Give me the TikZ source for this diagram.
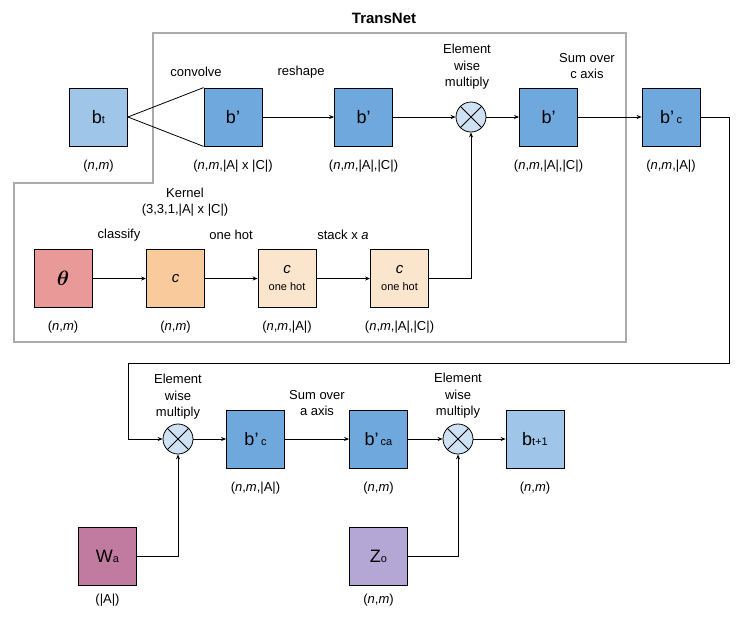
\documentclass[tikz,border=0pt]{standalone}
\usepackage{fontspec}
\setmainfont{Liberation Sans}
\usepackage{amsmath,amssymb}
\usetikzlibrary{arrows.meta,positioning}
\definecolor{BeliefLight}{HTML}{9FC5E8}
\definecolor{BeliefDark}{HTML}{6FA8DC}
\definecolor{ThetaRed}{HTML}{EA9999}
\definecolor{ClassOrange}{HTML}{F9CB9C}
\definecolor{HotCream}{HTML}{FCE5CD}
\definecolor{MultBlue}{HTML}{CFE2F3}
\definecolor{WeightPink}{HTML}{C27BA0}
\definecolor{ObsPurple}{HTML}{B4A7D6}
\definecolor{FrameGray}{HTML}{ABABAB}
\newcommand{\lowtag}[1]{{\fontsize{11}{11}\selectfont #1}}
\newcommand{\nm}{(\textit{n},\textit{m}}

\begin{document}
\begin{tikzpicture}[x=10pt, y=10pt, font=\fontsize{13}{16.5}\selectfont,
  >={Stealth[length=5pt,width=4pt]},
  tensor/.style={draw=black, line width=0.8pt, minimum size=58pt, inner sep=0pt,
    font=\fontsize{18}{20}\selectfont},
  mult/.style={circle, draw=black, line width=0.8pt, fill=MultBlue,
    minimum size=30pt, inner sep=0pt},
  dims/.style={below=13pt of #1, inner sep=0pt},
  dimsnear/.style={below=8pt of #1, inner sep=0pt},
  flow/.style={->, line width=0.8pt},
  wire/.style={line width=0.8pt}]
  \useasboundingbox (0,0) rectangle (74.6,-61.6);

  % The TransNet frame.
  \draw[FrameGray, line width=2pt] (15.3,-3.3) -- (62.6,-3.3) -- (62.6,-34.2)
    -- (1.4,-34.2) -- (1.4,-18.3) -- (15.3,-18.3) -- cycle;
  \node[font=\bfseries\fontsize{15}{17}\selectfont] (title) at (38.4,-1.8) {TransNet};

  % Belief path through the convolution.
  \node[tensor, fill=BeliefLight] (bt) at (9.85,-11.7) {b\lowtag{t}};
  \node[tensor, fill=BeliefDark] (conv) at (23.3,-11.7) {b'};
  \node[tensor, fill=BeliefDark] (reshaped) at (36.35,-11.7) {b'};
  \node[mult] (multA) at (47.1,-11.7) {};
  \node[tensor, fill=BeliefDark] (product) at (54.85,-11.7) {b'};
  \node[tensor, fill=BeliefDark] (summedc) at (67.1,-11.7) {b’\hspace{2.5pt}\lowtag{c}};

  \node[dims=bt] (btdims) {\nm)};
  \node[dims=conv] (convdims) {\nm,|A| x |C|)};
  \node[dims=reshaped] (reshapeddims) {\nm,|A|,|C|)};
  \node[dims=product] (productdims) {\nm,|A|,|C|)};
  \node[dims=summedc] (summedcdims) {\nm,|A|)};

  \node (convolve) at (19.6,-7.2) {convolve};
  \node (reshape) at (30.1,-7.2) {reshape};
  \node[align=center] (multAtext) at (46.7,-6.7) {Element\\wise\\multiply};
  \node[align=center] (sumc) at (58.7,-6.6) {Sum over\\c axis};

  \draw[wire] (bt.east) -- (conv.north west);
  \draw[wire] (bt.east) -- (conv.south west);
  \draw[flow] (conv) -- (reshaped);
  \draw[flow] (reshaped) -- (multA);
  \draw[flow] (multA) -- (product);
  \draw[flow] (product) -- (summedc);

  % Classification and one-hot kernel.
  \node[align=center] (kernel) at (18.5,-20.2) {Kernel\\(3,3,1,|A| x |C|)};
  \node[tensor, fill=ThetaRed, font=\fontsize{21}{23}\selectfont] (theta) at (6.3,-27.85)
    {$\boldsymbol{\theta}$};
  \node[tensor, fill=ClassOrange, font=\fontsize{15}{17}\itshape] (cls) at (17.55,-27.85) {c};
  \node[tensor, fill=HotCream, align=center] (hotA) at (28.7,-27.85)
    {{\fontsize{15}{15}\itshape c}\\[-3pt]{\fontsize{11}{12}\selectfont one hot}};
  \node[tensor, fill=HotCream, align=center] (hotB) at (39.95,-27.85)
    {{\fontsize{15}{15}\itshape c}\\[-3pt]{\fontsize{11}{12}\selectfont one hot}};

  \node[dims=theta] (thetadims) {\nm)};
  \node[dims=cls] (clsdims) {\nm)};
  \node[dims=hotA] (hotAdims) {\nm,|A|)};
  \node[dims=hotB] (hotBdims) {\nm,|A|,|C|)};

  \node (classify) at (11.9,-23.5) {classify};
  \node (onehot) at (23.1,-23.5) {one hot};
  \node (stack) at (34.3,-23.5) {stack x \textit{a}};

  \draw[flow] (theta) -- (cls);
  \draw[flow] (cls) -- (hotA);
  \draw[flow] (hotA) -- (hotB);
  \draw[flow] (hotB.east) -| (multA.south);

  % Weighting by the action and observation terms.
  \node[mult] (multB) at (17.8,-43.9) {};
  \node[tensor, fill=BeliefDark] (weighted) at (25.55,-43.9) {b’\hspace{2.5pt}\lowtag{c}};
  \node[tensor, fill=BeliefDark] (summeda) at (37.85,-43.9) {b’\hspace{2pt}\lowtag{ca}};
  \node[mult] (multC) at (45.8,-43.9) {};
  \node[tensor, fill=BeliefLight] (bnext) at (53.5,-43.9) {b\lowtag{t+1}};
  \node[tensor, fill=WeightPink] (wa) at (10.75,-55.65) {W\lowtag{a}};
  \node[tensor, fill=ObsPurple] (zo) at (37.85,-55.65) {Z\lowtag{o}};

  \node[dims=weighted] (weighteddims) {\nm,|A|)};
  \node[dims=summeda] (summedadims) {\nm)};
  \node[dims=bnext] (bnextdims) {\nm)};
  \node[dimsnear=wa] (wadims) {(|A|)};
  \node[dimsnear=zo] (zodims) {\nm)};

  \node[align=center] (multBtext) at (17.8,-39.7) {Element\\wise\\multiply};
  \node[align=center] (suma) at (31.7,-40.3) {Sum over\\a axis};
  \node[align=center] (multCtext) at (45.8,-39.6) {Element\\wise\\multiply};

  \coordinate (turnA) at (72.9,-11.7);
  \coordinate (turnB) at (72.9,-36.3);
  \coordinate (turnC) at (12.8,-36.3);
  \coordinate (turnD) at (12.8,-43.9);
  \draw[wire] (summedc.east) -- (turnA) -- (turnB) -- (turnC) -- (turnD);
  \draw[flow] (turnD) -- (multB);
  \draw[flow] (multB) -- (weighted);
  \draw[flow] (weighted) -- (summeda);
  \draw[flow] (summeda) -- (multC);
  \draw[flow] (multC) -- (bnext);
  \draw[flow] (wa.east) -| (multB.south);
  \draw[flow] (zo.east) -| (multC.south);

  \foreach \m in {multA,multB,multC} {
    \draw[line width=0.8pt] (\m.north west) -- (\m.south east);
    \draw[line width=0.8pt] (\m.north east) -- (\m.south west);
  }
\end{tikzpicture}
\end{document}
